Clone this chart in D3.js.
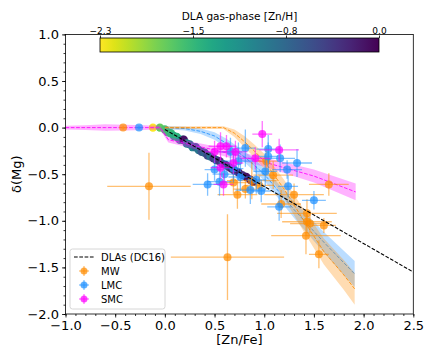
<!DOCTYPE html>
<html>
<head>
<meta charset="utf-8">
<script src="https://cdn.jsdelivr.net/npm/d3@7"></script>
<style>
  body { margin: 0; background: #fff; }
  text { font-family: "DejaVu Sans", sans-serif; fill: #000; }
</style>
</head>
<body>
<div id="chart"></div>
<script>
// ---- data ----
// DLAs: [Zn/Fe], delta(Mg), [Zn/H]
var dlaZnFe = [-0.12, -0.05, 0.00, 0.03, 0.06, 0.09, 0.12, 0.15, 0.18, 0.19, 0.22, 0.25, 0.28, 0.31, 0.34, 0.37, 0.40, 0.43, 0.46, 0.49, 0.52, 0.55, 0.58, 0.61, 0.64, 0.67, 0.70, 0.74, 0.78, 0.82, 0.86, 0.89];
var dlaMg   = [0.00, 0.00, -0.02, -0.05, -0.06, -0.09, -0.10, -0.13, -0.13, -0.13, -0.17, -0.18, -0.21, -0.21, -0.24, -0.26, -0.27, -0.30, -0.31, -0.33, -0.35, -0.36, -0.39, -0.40, -0.42, -0.44, -0.46, -0.48, -0.51, -0.53, -0.56, -0.58];
var dlaZnH  = [-2.3, -1.75, -1.65, -1.6, -1.55, -1.45, -1.5, -1.35, -1.2, -0.1, -1.1, -0.95, -1.05, -0.8, -0.9, -0.6, -0.75, -0.5, -0.85, -0.4, -0.6, -0.3, -0.7, -0.25, -0.45, -0.2, -0.35, -0.15, -0.3, -0.1, -0.05, -0.1];

// DC16 relation (end points)
var dc16X = [0.0, 2.5];
var dc16Y = [-0.02, -1.55];

// depletion model curves: x, y, half-width of band
var mwCurveX = [0.0, 0.59, 0.70, 0.80, 0.90, 1.00, 1.20, 1.40, 1.60, 1.80, 1.91];
var mwCurveY = [0.0, 0.0, -0.06, -0.15, -0.25, -0.36, -0.66, -1.00, -1.33, -1.58, -1.73];
var mwCurveE = [0.015, 0.015, 0.04, 0.06, 0.07, 0.08, 0.10, 0.12, 0.14, 0.16, 0.17];

var lmcCurveX = [0.0, 0.20, 0.36, 0.50, 0.62, 0.82, 1.00, 1.30, 1.60, 1.91];
var lmcCurveY = [0.0, -0.01, -0.04, -0.09, -0.17, -0.33, -0.50, -0.88, -1.23, -1.57];
var lmcCurveE = [0.015, 0.02, 0.03, 0.04, 0.05, 0.06, 0.07, 0.09, 0.11, 0.14];

var smcCurveX = [-1.0, -0.80, -0.60, -0.40, -0.20, -0.05, 0.035, 0.50, 1.00, 1.50, 1.92];
var smcCurveY = [0.0, 0.0, 0.0, 0.0, 0.0, 0.0, -0.13, -0.24, -0.37, -0.52, -0.69];
var smcCurveE = [0.02, 0.025, 0.035, 0.03, 0.025, 0.02, 0.03, 0.04, 0.05, 0.07, 0.09];

// sightlines: x, y, xerr, yerr
var mwX  = [-0.42, -0.16, 0.63, 0.69, 0.73, 0.81, 0.875, 1.02, 1.09, 1.17, 1.30, 1.43, 1.43, 1.46, 1.60, 1.42, 1.55, 1.65, 0.95];
var mwY  = [0.00, -0.63, -1.39, -0.59, -0.72, -0.66, -0.57, -0.36, -0.51, -0.82, -0.72, -0.92, -1.01, -1.03, -1.05, -1.16, -1.36, -0.61, -0.62];
var mwXe = [0.02, 0.42, 0.57, 0.15, 0.20, 0.12, 0.25, 0.12, 0.20, 0.20, 0.30, 0.30, 0.25, 0.20, 0.12, 0.35, 0.10, 0.20, 0.15];
var mwYe = [0.02, 0.36, 0.46, 0.12, 0.15, 0.10, 0.20, 0.15, 0.15, 0.15, 0.12, 0.15, 0.12, 0.10, 0.08, 0.20, 0.15, 0.12, 0.10];

var lmcX  = [-0.26, 0.43, 0.55, 0.66, 0.69, 0.74, 0.81, 0.76, 0.86, 0.97, 1.01, 1.04, 1.04, 1.16, 1.33, 1.23, 1.24, 1.15, 1.50, 0.60, 0.92, 0.50];
var lmcY  = [0.00, -0.61, -0.58, -0.26, -0.44, -0.36, -0.22, -0.53, -0.67, -0.68, -0.47, -0.23, -0.31, -0.33, -0.38, -0.45, -0.63, -0.85, -0.78, -0.50, -0.56, -0.45];
var lmcXe = [0.02, 0.15, 0.12, 0.12, 0.10, 0.15, 0.10, 0.12, 0.15, 0.10, 0.12, 0.12, 0.10, 0.15, 0.15, 0.15, 0.10, 0.12, 0.12, 0.12, 0.10, 0.10];
var lmcYe = [0.02, 0.12, 0.15, 0.15, 0.15, 0.20, 0.20, 0.15, 0.15, 0.12, 0.20, 0.15, 0.15, 0.15, 0.15, 0.10, 0.12, 0.15, 0.10, 0.12, 0.15, 0.12];

var smcX  = [0.98, 0.50, 0.56, 0.62, 0.71, 0.91, 1.15, 0.56, 0.59, 0.69];
var smcY  = [-0.07, -0.26, -0.20, -0.20, -0.26, -0.33, -0.24, -0.43, -0.61, -0.38];
var smcXe = [0.10, 0.12, 0.12, 0.10, 0.12, 0.15, 0.20, 0.10, 0.10, 0.10];
var smcYe = [0.14, 0.12, 0.15, 0.12, 0.12, 0.12, 0.12, 0.12, 0.12, 0.12];

var cbarTicks = [-2.3, -1.5333, -0.7667, 0.0];

// ---- layout ----
var W = 436, H = 349;
var L = 65.5, R = 413.3, T = 34.4, B = 314;
var MW_COL = "#ff8c00", LMC_COL = "#1e90ff", SMC_COL = "#ff00ff";

var svg = d3.select("#chart").append("svg").attr("width", W).attr("height", H);

var x = d3.scaleLinear().domain([-1.0, 2.5]).range([L, R]);
var y = d3.scaleLinear().domain([-2.0, 1.0]).range([B, T]);

svg.append("clipPath").attr("id", "clip").append("rect")
  .attr("x", L).attr("y", T).attr("width", R - L).attr("height", B - T);
var plot = svg.append("g").attr("clip-path", "url(#clip)");

function zip(a, b, c) { return a.map(function (v, i) { return [v, b[i], c ? c[i] : 0]; }); }

// DLA points coloured by [Zn/H]
var cscale = d3.scaleSequential(function (t) { return d3.interpolateViridis(1 - t); }).domain([-2.3, 0.0]);
plot.selectAll("circle.dla").data(zip(dlaZnFe, dlaMg, dlaZnH)).enter().append("circle")
  .attr("cx", function (d) { return x(d[0]); })
  .attr("cy", function (d) { return y(d[1]); })
  .attr("r", 4.2)
  .attr("fill", function (d) { return cscale(d[2]); });

// model bands and curves
function band(xs, ys, es, col) {
  var pts = zip(xs, ys, es);
  plot.append("path").datum(pts)
    .attr("d", d3.area().x(function (d) { return x(d[0]); })
      .y0(function (d) { return y(d[1] - d[2]); })
      .y1(function (d) { return y(d[1] + d[2]); }))
    .attr("fill", col).attr("fill-opacity", 0.3);
  plot.append("path").datum(pts)
    .attr("d", d3.line().x(function (d) { return x(d[0]); }).y(function (d) { return y(d[1]); }))
    .attr("fill", "none").attr("stroke", col).attr("stroke-width", 1)
    .attr("stroke-dasharray", "3.7,1.6").attr("stroke-opacity", 0.85);
}
band(smcCurveX, smcCurveY, smcCurveE, SMC_COL);
band(lmcCurveX, lmcCurveY, lmcCurveE, LMC_COL);
band(mwCurveX, mwCurveY, mwCurveE, MW_COL);

// sightlines with error bars
function errPoints(xs, ys, xe, ye, col) {
  var g = plot.append("g");
  var data = xs.map(function (v, i) { return [v, ys[i], xe[i], ye[i]]; });
  g.selectAll("line.h").data(data).enter().append("line")
    .attr("x1", function (d) { return x(d[0] - d[2]); }).attr("x2", function (d) { return x(d[0] + d[2]); })
    .attr("y1", function (d) { return y(d[1]); }).attr("y2", function (d) { return y(d[1]); })
    .attr("stroke", col).attr("stroke-width", 1.3).attr("stroke-opacity", 0.55);
  g.selectAll("line.v").data(data).enter().append("line")
    .attr("x1", function (d) { return x(d[0]); }).attr("x2", function (d) { return x(d[0]); })
    .attr("y1", function (d) { return y(d[1] - d[3]); }).attr("y2", function (d) { return y(d[1] + d[3]); })
    .attr("stroke", col).attr("stroke-width", 1.3).attr("stroke-opacity", 0.55);
  g.selectAll("circle").data(data).enter().append("circle")
    .attr("cx", function (d) { return x(d[0]); }).attr("cy", function (d) { return y(d[1]); })
    .attr("r", 4).attr("fill", col).attr("fill-opacity", 0.72);
}
errPoints(mwX, mwY, mwXe, mwYe, MW_COL);
errPoints(lmcX, lmcY, lmcXe, lmcYe, LMC_COL);
errPoints(smcX, smcY, smcXe, smcYe, SMC_COL);

// DC16 line
plot.append("path").datum(zip(dc16X, dc16Y))
  .attr("d", d3.line().x(function (d) { return x(d[0]); }).y(function (d) { return y(d[1]); }))
  .attr("fill", "none").attr("stroke", "#000").attr("stroke-width", 1.1)
  .attr("stroke-dasharray", "3.7,1.6");

// axes
var fmt = function (v) { return d3.format(".1f")(v).replace("-", "\u2212"); };
var xAxis = svg.append("g").attr("transform", "translate(0," + B + ")")
  .call(d3.axisBottom(x).tickValues(d3.range(-1.0, 2.51, 0.5)).tickFormat(fmt).tickSize(3.5).tickPadding(3));
var xMinor = svg.append("g").attr("transform", "translate(0," + B + ")")
  .call(d3.axisBottom(x).tickValues(d3.range(-10, 26).map(function (v) { return v / 10; })).tickFormat("").tickSize(2));
var yAxis = svg.append("g").attr("transform", "translate(" + L + ",0)")
  .call(d3.axisLeft(y).tickValues(d3.range(-2.0, 1.01, 0.5)).tickFormat(fmt).tickSize(3.5).tickPadding(3));
var yMinor = svg.append("g").attr("transform", "translate(" + L + ",0)")
  .call(d3.axisLeft(y).tickValues(d3.range(-20, 11).map(function (v) { return v / 10; })).tickFormat("").tickSize(2));
[xAxis, xMinor, yAxis, yMinor].forEach(function (a) {
  a.select(".domain").remove();
  a.selectAll("line").attr("stroke", "#000").attr("stroke-width", 0.8);
  a.selectAll("text").style("font-size", "13px").style("font-family", "DejaVu Sans");
});
svg.append("rect").attr("x", L).attr("y", T).attr("width", R - L).attr("height", B - T)
  .attr("fill", "none").attr("stroke", "#000").attr("stroke-width", 0.8);

svg.append("text").attr("x", (L + R) / 2).attr("y", 344).attr("text-anchor", "middle")
  .style("font-size", "13px").text("[Zn/Fe]");
svg.append("text").attr("transform", "translate(21," + ((T + B) / 2) + ") rotate(-90)")
  .attr("text-anchor", "middle").style("font-size", "13px").text("\u03b4(Mg)");

// colorbar
var cbL = 100, cbR = 379, cbT = 38, cbB = 52;
var grad = svg.append("defs").append("linearGradient").attr("id", "cbgrad");
d3.range(0, 1.0001, 0.05).forEach(function (t) {
  grad.append("stop").attr("offset", t).attr("stop-color", cscale(-2.3 + 2.3 * t));
});
svg.append("rect").attr("x", cbL).attr("y", cbT).attr("width", cbR - cbL).attr("height", cbB - cbT)
  .attr("fill", "url(#cbgrad)").attr("stroke", "#000").attr("stroke-width", 0.8);
var cx = d3.scaleLinear().domain([-2.3, 0.0]).range([cbL, cbR]);
var cbAxis = svg.append("g").attr("transform", "translate(0," + cbT + ")")
  .call(d3.axisTop(cx).tickValues(cbarTicks).tickFormat(d3.format(".1f")).tickSize(2.5).tickPadding(2));
cbAxis.select(".domain").remove();
cbAxis.selectAll("line").attr("stroke", "#000").attr("stroke-width", 0.8);
cbAxis.selectAll("text").style("font-size", "9px").style("font-family", "DejaVu Sans");
svg.append("text").attr("x", (cbL + cbR) / 2).attr("y", 20).attr("text-anchor", "middle")
  .style("font-size", "10.5px").text("DLA gas-phase [Zn/H]");

// legend
var lg = svg.append("g");
lg.append("rect").attr("x", 70).attr("y", 249).attr("width", 95).attr("height", 60).attr("rx", 2.5)
  .attr("fill", "#fff").attr("fill-opacity", 0.8).attr("stroke", "#ccc").attr("stroke-width", 0.8);
lg.append("line").attr("x1", 74).attr("x2", 94).attr("y1", 257).attr("y2", 257)
  .attr("stroke", "#000").attr("stroke-width", 1.1).attr("stroke-dasharray", "3.7,1.6");
lg.append("text").attr("x", 101).attr("y", 260.5).style("font-size", "10px").text("DLAs (DC16)");
[["MW", MW_COL, 271], ["LMC", LMC_COL, 285], ["SMC", SMC_COL, 299]].forEach(function (e) {
  lg.append("line").attr("x1", 79).attr("x2", 89).attr("y1", e[2]).attr("y2", e[2])
    .attr("stroke", e[1]).attr("stroke-width", 1.3).attr("stroke-opacity", 0.55);
  lg.append("line").attr("x1", 84).attr("x2", 84).attr("y1", e[2] - 5).attr("y2", e[2] + 5)
    .attr("stroke", e[1]).attr("stroke-width", 1.3).attr("stroke-opacity", 0.55);
  lg.append("circle").attr("cx", 84).attr("cy", e[2]).attr("r", 3.5).attr("fill", e[1]).attr("fill-opacity", 0.72);
  lg.append("text").attr("x", 101).attr("y", e[2] + 3.5).style("font-size", "10px").text(e[0]);
});
</script>
</body>
</html>
